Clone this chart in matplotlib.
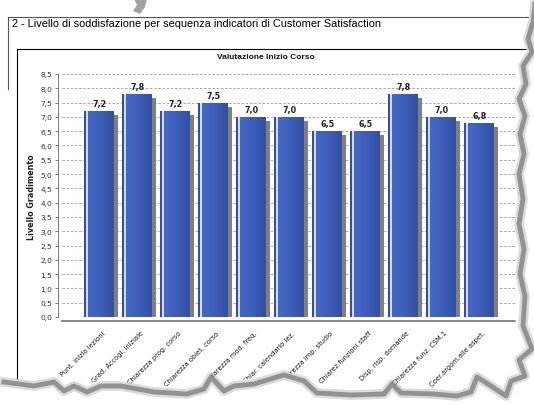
import numpy as np
import matplotlib
matplotlib.use("Agg")
import matplotlib.pyplot as plt
import matplotlib.transforms as mtransforms
from matplotlib.patches import Polygon
from matplotlib.lines import Line2D

W, H = 534, 406

page_title = "2 - Livello di soddisfazione per sequenza indicatori di Customer Satisfaction"
chart_title = "Valutazione Inizio Corso"
y_label = "Livello Gradimento"

categories = [
    "Punt. inizio lezioni",
    "Grad. Accogl. iniziale",
    "Chiarezza prog. corso",
    "Chiarezza obiet. corso",
    "Chiarezza mod. freq.",
    "Chiar. calendario lez.",
    "Chiarezza imp. studio",
    "Chiarez.funzioni staff",
    "Disp. risp. domande",
    "Chiarezza funz. CSM.1",
    "Coer.argom.alle aspet.",
]
values = [7.2, 7.8, 7.2, 7.5, 7.0, 7.0, 6.5, 6.5, 7.8, 7.0, 6.8]

# torn paper edge (decoration only), pixel coords, y down
edge = [(531, 0), (529, 18), (524, 35), (528, 48), (519, 62), (522, 80), (515, 95),
        (521, 112), (516, 130), (520, 150), (515, 170), (519, 195), (515, 220),
        (520, 245), (516, 270), (521, 292), (519, 322), (528, 345), (515, 356),
        (521, 372), (507, 377), (502, 392), (484, 380), (473, 373), (467, 388),
        (453, 392), (430, 390), (397, 389), (388, 380), (380, 390), (347, 391),
        (313, 389), (300, 377), (280, 371), (250, 380), (230, 382), (220, 387),
        (207, 373), (200, 385), (183, 390), (150, 388), (117, 382), (97, 382),
        (83, 388), (70, 382), (60, 387), (50, 378), (30, 382), (0, 378)]
top_scrap = [(134, 0), (147, 0), (145, 8), (140, 15), (133, 12), (137, 6)]


def fx(x, y):
    return x / W, 1 - y / H


fig = plt.figure(figsize=(W / 100, H / 100), dpi=100)
fig.patch.set_facecolor("white")

# frames
fig.add_artist(Line2D([fx(8, 18)[0], fx(534, 18)[0]], [fx(8, 18)[1]] * 2,
                      color="#555555", lw=0.8, transform=fig.transFigure))
fig.add_artist(Line2D([fx(8, 18)[0]] * 2, [fx(8, 18)[1], fx(8, 90)[1]],
                      color="#555555", lw=0.8, transform=fig.transFigure))
fig.add_artist(Line2D([fx(17, 50)[0], fx(534, 50)[0]], [fx(17, 50)[1]] * 2,
                      color="black", lw=0.8, transform=fig.transFigure))
fig.add_artist(Line2D([fx(17, 50)[0]] * 2, [fx(17, 50)[1], 0],
                      color="black", lw=0.8, transform=fig.transFigure))
fig.add_artist(Polygon([fx(*p) for p in top_scrap], closed=True, facecolor="#8a8a8a",
                       edgecolor="none", alpha=0.8, transform=fig.transFigure))

fig.text(*fx(12, 24), page_title, fontsize=7.9, family="Liberation Sans",
         ha="left", va="center", color="black")
fig.text(*fx(266, 58), chart_title, fontsize=6.0, family="Liberation Sans",
         weight="bold", ha="center", va="center", color="#111111")

ax = fig.add_axes([62 / W, (H - 318) / H, 453 / W, 243 / H])

# spines first: set_position resets the ticks
for s in ["top", "right"]:
    ax.spines[s].set_visible(False)
ax.spines["left"].set_position(("outward", 3))
ax.spines["bottom"].set_position(("outward", 3))
ax.spines["left"].set_color("#777777")
ax.spines["left"].set_linewidth(0.7)
ax.spines["bottom"].set_color("#666666")
ax.spines["bottom"].set_linewidth(1.1)

x = np.arange(len(values))
vals = np.array(values)
unit = 38.0
bw = 30 / unit

# shadow bars, shifted a few pixels right/down
shift = mtransforms.ScaledTranslation(4 / 100, -4 / 100, fig.dpi_scale_trans)
ax.bar(x, vals, width=bw, color="#7f7f7c", transform=ax.transData + shift, zorder=2)

# main bar bodies with gradient
body = ax.bar(x - bw / 2 + 4 / unit, vals, width=bw - 4 / unit, align="edge",
              color="#3c5cb7", zorder=3)
grad = np.linspace(0, 1, 64).reshape(1, -1)
cmap = matplotlib.colors.LinearSegmentedColormap.from_list(
    "bar", ["#4668c4", "#3d5dba", "#33509f"])
for p in body:
    im = ax.imshow(grad, cmap=cmap, aspect="auto", zorder=3.5,
                   extent=[p.get_x(), p.get_x() + p.get_width(), 0, p.get_height()])
    im.set_clip_path(p)
# left stripes
ax.bar(x - bw / 2, vals, width=2 / unit, align="edge", color="#2f4fae", zorder=4)
ax.bar(x - bw / 2 + 2 / unit, vals, width=2 / unit, align="edge", color="#d4ddf4", zorder=4)

for xi, v in zip(x, vals):
    ax.annotate(f"{v:.1f}".replace(".", ","), (xi, v), xytext=(1, 3),
                textcoords="offset pixels", ha="center", va="bottom",
                fontsize=5.8, weight="bold", color="#222222", family="DejaVu Sans")

ax.set_xlim(-99 / unit + 62 / unit, (515 - 99) / unit)
ax.set_ylim(0, 8.5)
yt = np.arange(0, 8.51, 0.5)
ax.set_yticks(yt)
ax.set_yticklabels([f"{t:.1f}".replace(".", ",") for t in yt],
                   fontsize=5.4, color="#333333", family="DejaVu Sans")
ax.set_xticks(x + 3 / unit)
ax.set_xticklabels(categories, rotation=45, ha="right", rotation_mode="anchor",
                   fontsize=4.8, color="#1a1a1a", family="DejaVu Sans")
ax.tick_params(axis="x", length=0, pad=6)
ax.tick_params(axis="y", length=2, width=0.6, color="#666666", pad=2)

ax.yaxis.grid(True, linestyle=(0, (3, 2)), color="#9a9a9a", linewidth=0.6)
ax.set_axisbelow(True)

fig.text(*fx(32, 197), y_label, fontsize=5.8, weight="bold", rotation=90,
         ha="center", va="center", color="#222222", family="DejaVu Sans")

# torn edge: white outside region and grey shadow
outside = [fx(*p) for p in edge] + [fx(0, 406), fx(534, 406), fx(534, 0)]
fig.add_artist(Polygon(outside, closed=True, facecolor="white", edgecolor="none",
                       transform=fig.transFigure, zorder=10))
ex = [fx(p[0] + 4, p[1] + 5)[0] for p in edge]
ey = [fx(p[0] + 4, p[1] + 5)[1] for p in edge]
fig.add_artist(Line2D(ex, ey, color="#999999", lw=7, alpha=0.35,
                      transform=fig.transFigure, zorder=11, solid_joinstyle="round"))
fig.add_artist(Line2D(ex, ey, color="#7a7a7a", lw=3.5, alpha=0.75,
                      transform=fig.transFigure, zorder=12, solid_joinstyle="round"))

fig.savefig("out.png", dpi=100)
